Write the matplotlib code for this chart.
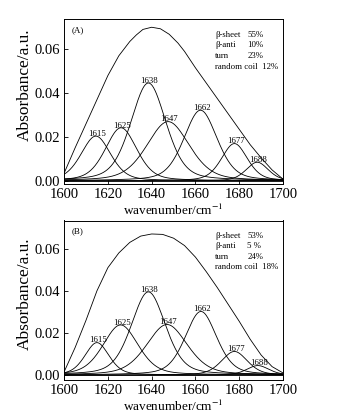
import numpy as np
import matplotlib
matplotlib.use('Agg')
import matplotlib.pyplot as plt

plt.rcParams['font.family'] = ['Liberation Serif', 'DejaVu Serif']
plt.rcParams['mathtext.fontset'] = 'stix'

wnA = [1600, 1605, 1610, 1615, 1620, 1625, 1630, 1633, 1636, 1640, 1644, 1648, 1652, 1655,
       1660, 1665, 1670, 1675, 1680, 1685, 1690, 1695, 1700]
absA = [0.0035, 0.015, 0.026, 0.037, 0.048, 0.0570, 0.0635, 0.0665, 0.0690, 0.0700, 0.0693,
        0.0668, 0.0628, 0.0590, 0.0515, 0.0445, 0.0375, 0.0305, 0.0235, 0.0165, 0.0105,
        0.0050, 0.0008]

wnB = [1600, 1605, 1610, 1615, 1620, 1625, 1630, 1635, 1640, 1645, 1650, 1655, 1660,
       1665, 1670, 1675, 1680, 1685, 1690, 1695, 1700]
absB = [0.0015, 0.013, 0.026, 0.040, 0.051, 0.058, 0.0630, 0.0660, 0.0670, 0.0668, 0.0650,
        0.0615, 0.0560, 0.0490, 0.0415, 0.0335, 0.0255, 0.0170, 0.0095, 0.0040, 0.0010]

# fitted bands: centre, height, FWHM
peak_labels = ['1615', '1625', '1638', '1647', '1662', '1677', '1688']
centA = [1614.5, 1626.0, 1638.5, 1647.5, 1662.3, 1677.8, 1688.2]
htA = [0.0204, 0.0242, 0.0446, 0.0270, 0.0322, 0.0170, 0.0085]
fwA = [16, 17, 19, 23, 18, 14, 12]

centB = [1615.0, 1625.8, 1638.5, 1647.0, 1662.5, 1677.8, 1688.5]
htB = [0.0154, 0.0238, 0.0395, 0.0240, 0.0302, 0.0112, 0.0045]
fwB = [13, 19, 18.5, 22, 17, 14, 12]

compA = ['\u03b2-sheet', '\u03b2-anti', 'turn']
pctA = ['55%', '10%', '23%']
coilA = 'random coil  12%'
compB = ['\u03b2-sheet', '\u03b2-anti', 'turn']
pctB = ['53%', '5 %', '24%']
coilB = 'random coil  18%'


def band(x, c, h, w, eta=0.35):
    g = np.exp(-4 * np.log(2) * ((x - c) / w) ** 2)
    l = 1 / (1 + (2 * (x - c) / w) ** 2)
    return h * ((1 - eta) * g + eta * l)


x = np.linspace(1600, 1700, 600)

fig = plt.figure(figsize=(3.41, 4.2), dpi=100)
axA = fig.add_axes([0.188, 0.562, 0.642, 0.393])
axB = fig.add_axes([0.188, 0.095, 0.642, 0.380])

panels = [(axA, '(A)', wnA, absA, centA, htA, fwA, compA, pctA, coilA, (-0.0014, 0.0738), 0.60),
          (axB, '(B)', wnB, absB, centB, htB, fwB, compB, pctB, coilB, (-0.0024, 0.0734), 0.54)]

for ax, tag, wn, ab, cen, ht, fw, comp, pct, coil, ylim, ylab_y in panels:
    ax.plot(wn, ab, color='black', lw=0.6)
    for c, h, w, lab in zip(cen, ht, fw, peak_labels):
        ax.plot(x, band(x, c, h, w), color='black', lw=0.6)
        ax.text(c + 0.5, h - 0.0008, lab, ha='center', va='bottom', fontsize=6.3)
    ax.axhline(0, color='black', lw=0.6)
    ax.set_xlim(1600, 1700)
    ax.set_ylim(*ylim)
    ax.set_xticks([1600, 1620, 1640, 1660, 1680, 1700])
    ax.set_yticks([0.00, 0.02, 0.04, 0.06])
    ax.set_yticklabels(['0.00', '0.02', '0.04', '0.06'])
    ax.tick_params(direction='in', length=3, width=0.6, labelsize=10.5, pad=3)
    for s in ax.spines.values():
        s.set_linewidth(0.7)
    ax.set_xlabel('wavenumber/cm$^{-1}$', fontsize=9.5, labelpad=1)
    ax.set_ylabel('Absorbance/a.u.', fontsize=12.5)
    ax.yaxis.set_label_coords(-0.142, ylab_y)
    ax.text(0.035, 0.93, tag, transform=ax.transAxes, fontsize=6.5, va='center')
    for i, (cname, p) in enumerate(zip(comp, pct)):
        yy = 0.905 - i * 0.066
        ax.text(0.69, yy, cname, transform=ax.transAxes, fontsize=6.3, va='center')
        ax.text(0.836, yy, p, transform=ax.transAxes, fontsize=6.3, va='center')
    ax.text(0.69, 0.905 - 3 * 0.066, coil, transform=ax.transAxes, fontsize=6.3, va='center')

fig.savefig('out.png', dpi=100)
